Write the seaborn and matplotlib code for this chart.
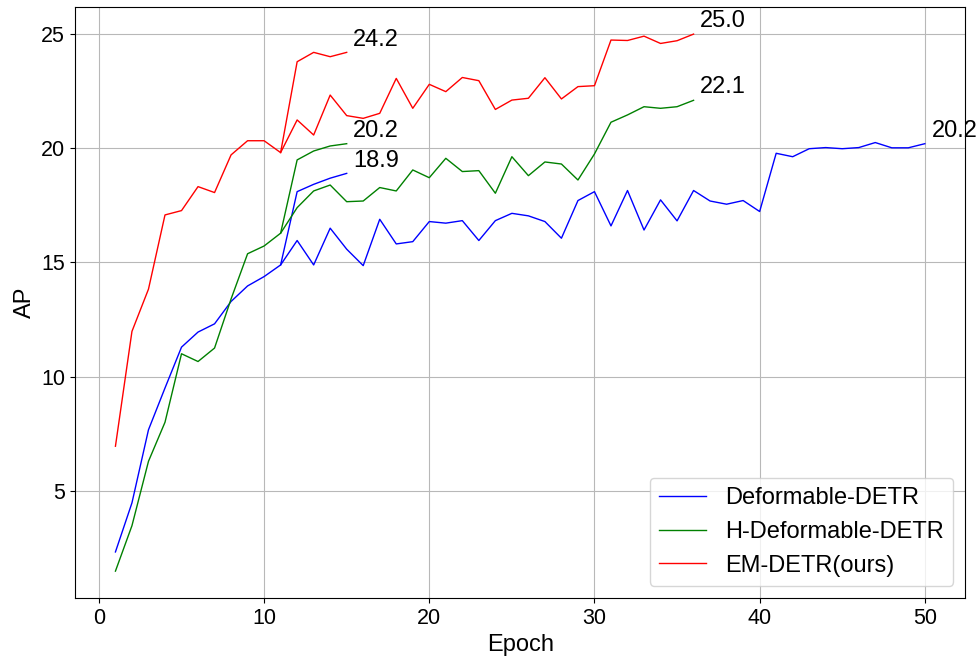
import numpy as np
import seaborn as sns
import matplotlib
matplotlib.use("Agg")
import matplotlib.pyplot as plt

plt.rcParams["font.family"] = ["Liberation Sans", "DejaVu Sans"]

# long schedule runs
deform_epochs = list(range(1, 51))
deform_ap = [2.32, 4.47, 7.67, 9.50, 11.29, 11.95, 12.31, 13.29, 13.97, 14.38,
             14.89, 15.96, 14.89, 16.50, 15.58, 14.86, 16.89, 15.81, 15.91, 16.79,
             16.72, 16.83, 15.96, 16.83, 17.15, 17.04, 16.79, 16.06, 17.71, 18.10,
             16.60, 18.15, 16.42, 17.74, 16.82, 18.15, 17.69, 17.55, 17.71, 17.23,
             19.78, 19.63, 19.98, 20.03, 19.98, 20.03, 20.25, 20.02, 20.02, 20.2]

hdeform_epochs = list(range(1, 37))
hdeform_ap = [1.48, 3.47, 6.29, 8.0, 11.0, 10.66, 11.25, 13.4, 15.38, 15.72,
              16.28, 17.40, 18.13, 18.39, 17.66, 17.69, 18.28, 18.13, 19.05, 18.71,
              19.56, 18.98, 19.02, 18.03, 19.63, 18.80, 19.40, 19.31, 18.61, 19.75,
              21.14, 21.46, 21.82, 21.75, 21.82, 22.1]

em_epochs = list(range(1, 37))
em_ap = [6.95, 11.98, 13.83, 17.08, 17.27, 18.32, 18.06, 19.71, 20.33, 20.33,
         19.81, 21.24, 20.58, 22.33, 21.43, 21.31, 21.53, 23.06, 21.75, 22.80,
         22.48, 23.10, 22.96, 21.70, 22.11, 22.19, 23.09, 22.16, 22.70, 22.74,
         24.74, 24.72, 24.91, 24.59, 24.71, 25.0]

# short schedule runs (branch off at epoch 11)
short_epochs = [11, 12, 13, 14, 15]
deform_short_ap = [14.89, 18.10, 18.42, 18.69, 18.9]
hdeform_short_ap = [16.28, 19.49, 19.88, 20.10, 20.2]
em_short_ap = [19.81, 23.79, 24.2, 24.01, 24.2]

fig, ax = plt.subplots(figsize=(9.8, 6.59), dpi=100)

runs = [
    (deform_epochs, deform_ap, deform_short_ap, "blue", "Deformable-DETR"),
    (hdeform_epochs, hdeform_ap, hdeform_short_ap, "green", "H-Deformable-DETR"),
    (em_epochs, em_ap, em_short_ap, "red", "EM-DETR(ours)"),
]

for ep, ap, short_ap, color, name in runs:
    sns.lineplot(x=ep, y=ap, color=color, linewidth=1, label=name, ax=ax)
    sns.lineplot(x=short_epochs, y=short_ap, color=color, linewidth=1, ax=ax)
    # annotate final values
    ax.text(ep[-1] + 0.4, ap[-1] + 0.3, f"{ap[-1]:.1f}", fontsize=17)
    ax.text(short_epochs[-1] + 0.4, short_ap[-1] + 0.3, f"{short_ap[-1]:.1f}", fontsize=17)

ax.set_xlabel("Epoch", fontsize=17)
ax.set_ylabel("AP", fontsize=17)
ax.tick_params(labelsize=15.5)
ax.grid(True, color="#b8b8b8", linewidth=0.8)
ax.legend(loc="lower right", fontsize=17)

plt.subplots_adjust(left=0.0765, right=0.985, bottom=0.0926, top=0.989)
plt.savefig("out.png", dpi=100)
